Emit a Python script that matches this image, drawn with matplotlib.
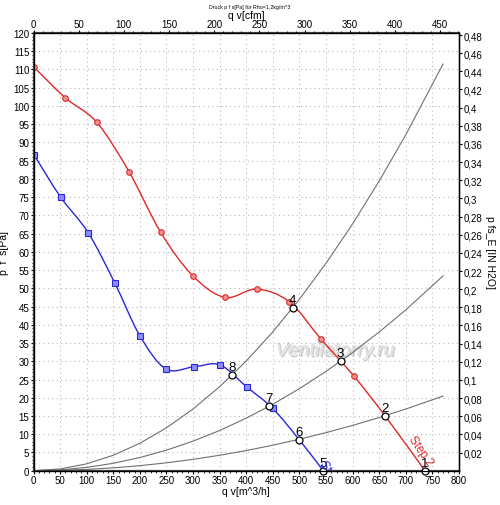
import numpy as np
import matplotlib
matplotlib.use('Agg')
from matplotlib import pyplot as plt
from matplotlib.path import Path
from matplotlib.patches import PathPatch
import matplotlib.patheffects as pe
from matplotlib.ticker import MultipleLocator, FixedLocator, FuncFormatter

plt.rcParams['font.family'] = ['Liberation Sans', 'DejaVu Sans']

# Step 2 (rot) - Messpunkte
red_q = [0, 60, 119, 179.5, 239, 299, 360, 419.5, 481, 540.4, 602]
red_p = [110.8, 102.2, 95.5, 82.0, 65.4, 53.5, 47.5, 49.8, 46.3, 36.1, 26.0]

# Step 1 (blau) - Messpunkte
blue_q = [1, 51, 103, 153, 200, 249, 302, 350.6, 400.6, 449.6]
blue_p = [86.6, 75.0, 65.2, 51.4, 37.0, 27.9, 28.5, 29.0, 23.0, 17.1]

# Betriebspunkte 1..8
op_nr = ['1', '2', '3', '4', '5', '6', '7', '8']
op_q = [736, 660.7, 577.4, 487, 544.8, 499.6, 443, 373.7]
op_p = [0, 15.1, 30.0, 44.6, 0, 8.5, 17.7, 26.2]

# Anlagenkennlinien
sys_q = [0, 50, 100, 150, 200, 250, 300, 350, 400, 450, 500, 550, 600, 650, 700, 770]
sys_a = [0, 0.47, 1.88, 4.23, 7.52, 11.75, 16.92, 23.03, 30.08, 38.07, 47.0, 56.87, 67.68, 79.43, 92.12, 111.5]
sys_b = [0, 0.23, 0.9, 2.03, 3.6, 5.63, 8.1, 11.03, 14.4, 18.23, 22.5, 27.23, 32.4, 38.03, 44.1, 53.4]
sys_c = [0, 0.09, 0.35, 0.78, 1.38, 2.16, 3.11, 4.23, 5.52, 6.99, 8.63, 10.44, 12.42, 14.58, 16.91, 20.45]

RED = '#e02828'
BLUE = '#2828d8'
GRAY = '#707070'


def smooth_path(xs, ys):
    # Catmull-Rom als Bezier-Kurve
    pts = np.column_stack([xs, ys]).astype(float)
    n = len(pts)
    verts = [pts[0]]
    codes = [Path.MOVETO]
    for i in range(n - 1):
        p0 = pts[i - 1] if i > 0 else pts[i]
        p1 = pts[i]
        p2 = pts[i + 1]
        p3 = pts[i + 2] if i + 2 < n else pts[i + 1]
        verts += [p1 + (p2 - p0) / 6.0, p2 - (p3 - p1) / 6.0, p2]
        codes += [Path.CURVE4] * 3
    return Path(verts, codes)


fig = plt.figure(figsize=(5.0, 5.06), dpi=100)
ax = fig.add_axes([0.067, 0.0678, 0.851, 0.865])

ax.set_xlim(0, 800)
ax.set_ylim(0, 120)
ax.xaxis.set_major_locator(MultipleLocator(50))
ax.xaxis.set_minor_locator(MultipleLocator(10))
ax.yaxis.set_major_locator(MultipleLocator(5))
ax.yaxis.set_minor_locator(MultipleLocator(1))
ax.grid(True, which='major', color='#b8b8b8', linestyle=(0, (1, 3)), linewidth=0.8)
ax.tick_params(labelsize=7, length=2, width=0.8, pad=1)
ax.tick_params(which='minor', length=1.2, width=0.6)

# Anlagenkennlinien
for s in (sys_a, sys_b, sys_c):
    ax.plot(sys_q, s, color=GRAY, lw=0.8, zorder=2)

# Kennlinien
red_line_q = red_q + [op_q[1], op_q[0]]
red_line_p = red_p + [op_p[1], op_p[0]]
ax.add_patch(PathPatch(smooth_path(red_line_q, red_line_p), fill=False, edgecolor=RED, lw=1.0, zorder=3))
blue_line_q = blue_q + [op_q[5], op_q[4]]
blue_line_p = blue_p + [op_p[5], op_p[4]]
ax.add_patch(PathPatch(smooth_path(blue_line_q, blue_line_p), fill=False, edgecolor=BLUE, lw=1.0, zorder=3))

ax.plot(red_q, red_p, 'o', ms=4, mfc='#f09090', mec=RED, mew=0.8, zorder=4)
ax.plot(blue_q, blue_p, 's', ms=4.5, mfc='#8c8cff', mec=BLUE, mew=0.8, zorder=4)

# Betriebspunkte
ax.plot(op_q, op_p, 'o', ms=5, mfc='white', mec='black', mew=0.9, zorder=5, clip_on=False)
for t, q, p in zip(op_nr, op_q, op_p):
    ax.annotate(t, (q, p), xytext=(0, 1.5), textcoords='offset points',
                ha='center', va='bottom', fontsize=9.5, zorder=6)

ax.text(728, 5.5, 'Step 2', color=RED, fontsize=8.5, rotation=-55,
        ha='center', va='center', zorder=6)
s1 = ax.text(543, 2.6, 'Step 1', color=BLUE, fontsize=8.5, rotation=-55,
             rotation_mode='anchor', ha='left', va='center', zorder=6)
s1.set_clip_box(ax.bbox)
s1.set_clip_on(True)

# Wasserzeichen
ax.text(567, 32.8, 'Ventilatorry.ru', fontsize=14, style='italic',
        color='#e2e2e2', ha='center', va='center', zorder=1,
        path_effects=[pe.withSimplePatchShadow(offset=(1.2, -1.2), shadow_rgbFace='#a8a8a8', alpha=0.6),
                      pe.Normal()])

ax.set_xlabel('q v[m^3/h]', fontsize=7.5, labelpad=0.5)
ax.set_ylabel('p  f  s[Pa]', fontsize=7.5)
ax.yaxis.set_label_coords(-0.058, 0.5)

for side in ('left', 'bottom', 'top'):
    ax.spines[side].set_linewidth(1.6)
    ax.spines[side].set_color('#404040')
ax.spines['right'].set_linewidth(1.0)

# obere Achse cfm
top = ax.twiny()
top.set_xlim(0, 800 / 1.699)
top.xaxis.set_major_locator(MultipleLocator(50))
top.xaxis.set_minor_locator(MultipleLocator(10))
top.tick_params(labelsize=7, length=2, width=0.8, pad=1)
top.tick_params(which='minor', length=1.2, width=0.6)
top.set_xlabel('q v[cfm]', fontsize=7.5, labelpad=0.5)

# rechte Achse in H2O
right = ax.twinx()
right.set_ylim(0, 120 / 248.84)
right.yaxis.set_major_locator(FixedLocator(np.arange(0.02, 0.481, 0.02)))
right.yaxis.set_major_formatter(FuncFormatter(
    lambda v, pos: ('%.2f' % v).rstrip('0').replace('.', ',')))
right.tick_params(labelsize=7, length=2, width=0.8, pad=1)
right.set_ylabel('p fs_E [IN H2O]', fontsize=7.5, rotation=270, labelpad=9)

fig.text(0.5, 0.985, 'Druck p f s[Pa] für Rho=1,2kg/m^3', fontsize=3.8, ha='center', va='center')

fig.savefig('out.png', dpi=100, facecolor='white')
